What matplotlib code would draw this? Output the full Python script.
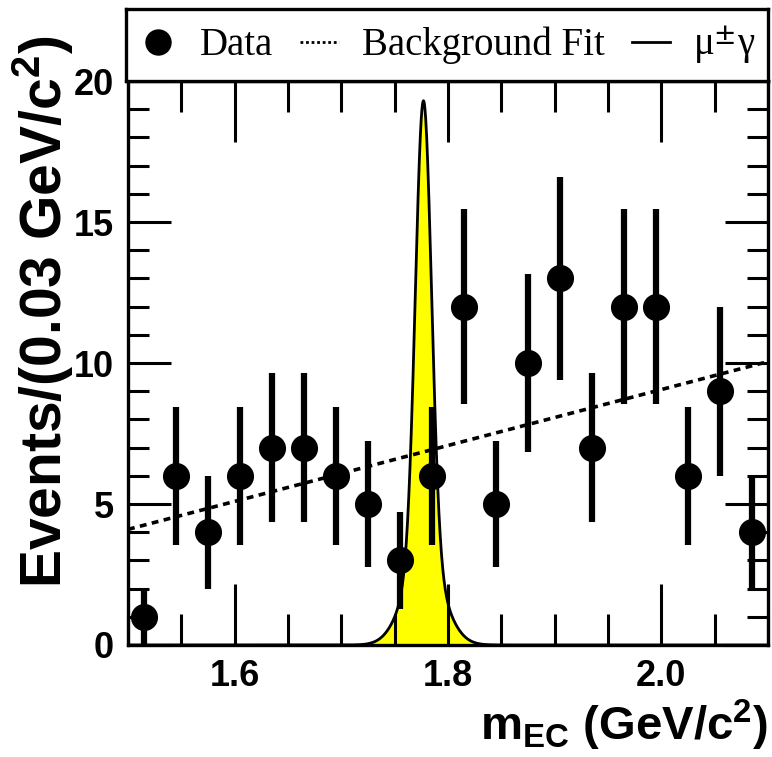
import numpy as np
import matplotlib
matplotlib.use("Agg")
import matplotlib.pyplot as plt
from matplotlib.lines import Line2D
from matplotlib.ticker import MultipleLocator, FormatStrFormatter

plt.rcParams["font.family"] = ["Liberation Sans", "DejaVu Sans"]
plt.rcParams["font.weight"] = "bold"
plt.rcParams["mathtext.fontset"] = "custom"
plt.rcParams["mathtext.rm"] = "Liberation Sans:bold"
plt.rcParams["mathtext.bf"] = "Liberation Sans:bold"
plt.rcParams["mathtext.it"] = "Liberation Sans:bold"

# Binned data: 0.03 GeV/c^2 bins
bin_centers = [1.515, 1.545, 1.575, 1.605, 1.635, 1.665, 1.695, 1.725, 1.755, 1.785,
               1.815, 1.845, 1.875, 1.905, 1.935, 1.965, 1.995, 2.025, 2.055, 2.085]
counts = [1, 6, 4, 6, 7, 7, 6, 5, 3, 6, 12, 5, 10, 13, 7, 12, 12, 6, 9, 4]

# Linear background fit (endpoints of the fit range)
bkg_x = [1.50, 2.10]
bkg_y = [4.1, 10.05]

# Signal shape: core + wide Gaussian
sig_mean = 1.777
sig_core_amp, sig_core_sigma = 16.3, 0.0075
sig_wide_amp, sig_wide_sigma = 3.0, 0.018

x_range = (1.50, 2.10)
y_range = (0, 20)

fig = plt.figure(figsize=(7.72, 7.57), dpi=100)
W, H = 772, 757
ax = fig.add_axes([128 / W, 1 - 645 / H, 640 / W, 564 / H])

xc = np.array(bin_centers)
yc = np.array(counts, dtype=float)
err = np.sqrt(yc)

# signal curve
xs = np.linspace(x_range[0], x_range[1], 2000)
sig = (sig_core_amp * np.exp(-0.5 * ((xs - sig_mean) / sig_core_sigma) ** 2)
       + sig_wide_amp * np.exp(-0.5 * ((xs - sig_mean) / sig_wide_sigma) ** 2))
ax.fill_between(xs, 0, sig, color="#ffff00", lw=0, zorder=1)
ax.plot(xs, sig, color="black", lw=2.0, zorder=2)

# background fit
ax.plot(bkg_x, bkg_y, color="black", lw=2.6, linestyle=(0, (1.9, 1.5)), zorder=3)

# data
ax.errorbar(xc, yc, yerr=err, fmt="o", color="black", ms=18.5, elinewidth=4.5,
            capsize=0, zorder=4, clip_on=True)

ax.set_xlim(*x_range)
ax.set_ylim(*y_range)

ax.xaxis.set_major_locator(MultipleLocator(0.2))
ax.xaxis.set_minor_locator(MultipleLocator(0.05))
ax.yaxis.set_major_locator(MultipleLocator(5))
ax.yaxis.set_minor_locator(MultipleLocator(1))
ax.tick_params(axis="both", which="both", direction="in", top=True, right=True,
               width=2.2, colors="black")
ax.tick_params(axis="x", which="major", length=44, pad=10, labelsize=26)
ax.tick_params(axis="x", which="minor", length=22)
ax.tick_params(axis="y", which="major", length=31, pad=10, labelsize=26)
ax.tick_params(axis="y", which="minor", length=15)
ax.xaxis.set_major_formatter(FormatStrFormatter("%.1f"))
for s in ax.spines.values():
    s.set_linewidth(2.4)

fig.text(43 / W, 1 - 36 / H, r"Events/(0.03 GeV/c$^{2}$)", rotation=90,
         ha="center", va="top", fontsize=41, fontweight="bold")
fig.text(768 / W, 1 - 725 / H, r"m$_{\mathrm{EC}}$ (GeV/c$^{2}$)",
         ha="right", va="center", fontsize=34, fontweight="bold")

# legend box above the plot
lax = fig.add_axes([126 / W, 1 - 81 / H, 642 / W, 72 / H])
lax.set_xticks([])
lax.set_yticks([])
for s in lax.spines.values():
    s.set_linewidth(2.4)
handles = [
    Line2D([], [], color="black", marker="o", ms=18, linestyle="none"),
    Line2D([], [], color="black", lw=2.0, linestyle=(0, (1.0, 1.0))),
    Line2D([], [], color="black", lw=2.0),
]
labels = ["Data", "Background Fit", "\u03bc$^{\\pm}$\u03b3"]
leg = lax.legend(handles, labels, ncol=3, loc="center", frameon=False,
                 prop={"family": "Liberation Serif", "size": 28, "weight": "normal"},
                 handlelength=1.0, handletextpad=0.57, columnspacing=0.7,
                 borderaxespad=0)
for t in leg.get_texts():
    t.set_math_fontfamily("stix")

fig.savefig("out.png", dpi=100)
